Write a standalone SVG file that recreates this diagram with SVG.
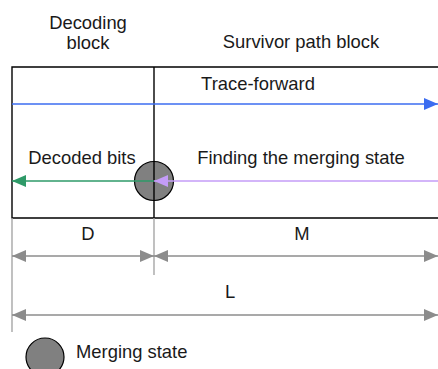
<svg xmlns="http://www.w3.org/2000/svg" width="438" height="369" viewBox="0 0 438 369">
  <style>
    text { font-family: "Liberation Sans", Arial, sans-serif; font-size: 18.4px; fill: #1a1a1a; }
    .mid { text-anchor: middle; }
    .box { fill: none; stroke: #000; stroke-width: 1.4; }
    .dim { stroke: #8c8c8c; stroke-width: 1.6; fill: none; }
    .ext { stroke: #a6a6a6; stroke-width: 1.4; fill: none; }
    .state { fill: #808080; stroke: #000; stroke-width: 1.2; }
  </style>
  <defs>
    <marker id="ah-gray" markerUnits="userSpaceOnUse" viewBox="0 0 14 12" refX="14" refY="6" markerWidth="14" markerHeight="12" orient="auto-start-reverse">
      <path d="M0,0 L14,6 L0,12 Z" fill="#8c8c8c"/>
    </marker>
    <marker id="ah-blue" markerUnits="userSpaceOnUse" viewBox="0 0 14 12" refX="14" refY="6" markerWidth="14" markerHeight="12" orient="auto">
      <path d="M0,0 L14,6 L0,12 Z" fill="#3b6cf0"/>
    </marker>
    <marker id="ah-green" markerUnits="userSpaceOnUse" viewBox="0 0 14 12" refX="14" refY="6" markerWidth="14" markerHeight="12" orient="auto">
      <path d="M0,0 L14,6 L0,12 Z" fill="#2e9a68"/>
    </marker>
    <marker id="ah-purple" markerUnits="userSpaceOnUse" viewBox="0 0 14 12" refX="14" refY="6" markerWidth="14" markerHeight="12" orient="auto">
      <path d="M0,0 L14,6 L0,12 Z" fill="#c49cf7"/>
    </marker>
  </defs>

  <g id="header-decoding">
    <text class="mid" x="88" y="29">Decoding</text>
    <text class="mid" x="88" y="49">block</text>
  </g>
  <g id="header-survivor">
    <text class="mid" x="301" y="48">Survivor path block</text>
  </g>

  <g id="merging-state">
    <circle class="state" cx="154" cy="181" r="19.5"/>
  </g>

  <g id="blocks">
    <path class="box" d="M445,67 H12 V218 H445"/>
    <line class="box" x1="154" y1="67" x2="154" y2="218"/>
  </g>

  <g id="connectors">
    <line x1="12" y1="104" x2="438" y2="104" stroke="#3b6cf0" stroke-width="1.4" marker-end="url(#ah-blue)"/>
    <line x1="154" y1="181" x2="12" y2="181" stroke="#2e9a68" stroke-width="1.4" marker-end="url(#ah-green)"/>
    <line x1="438" y1="181" x2="154" y2="181" stroke="#c49cf7" stroke-width="1.4" marker-end="url(#ah-purple)"/>
    <line class="ext" x1="12" y1="218" x2="12" y2="332"/>
    <line class="ext" x1="154" y1="218" x2="154" y2="275"/>
    <line class="dim" x1="12" y1="256" x2="154" y2="256" marker-start="url(#ah-gray)" marker-end="url(#ah-gray)"/>
    <line class="dim" x1="154" y1="256" x2="438" y2="256" marker-start="url(#ah-gray)" marker-end="url(#ah-gray)"/>
    <line class="dim" x1="12" y1="315" x2="438" y2="315" marker-start="url(#ah-gray)" marker-end="url(#ah-gray)"/>
  </g>

  <g id="labels">
    <text class="mid" x="258" y="90">Trace-forward</text>
    <text class="mid" x="82" y="164">Decoded bits</text>
    <text class="mid" x="301" y="164">Finding the merging state</text>
    <text class="mid" x="88" y="240">D</text>
    <text class="mid" x="302" y="240">M</text>
    <text class="mid" x="230" y="298">L</text>
  </g>

  <g id="legend">
    <circle class="state" cx="45" cy="357" r="19"/>
    <text x="76" y="358">Merging state</text>
  </g>
</svg>
